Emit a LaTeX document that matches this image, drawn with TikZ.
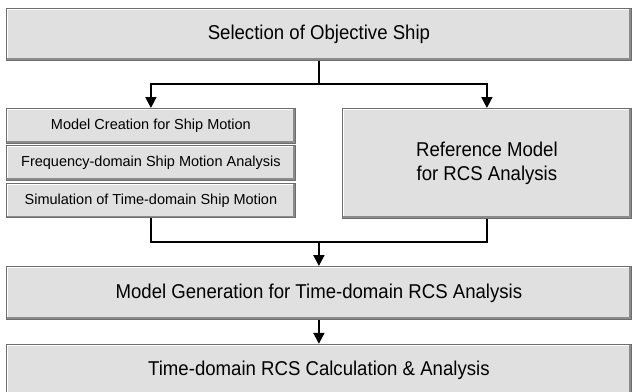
\documentclass[tikz,border=0pt]{standalone}
\usepackage{fontspec}
\setmainfont{Liberation Sans}
\newfontfamily\narrowsf[FakeStretch=0.93]{Liberation Sans}
\usetikzlibrary{arrows.meta,positioning}
\definecolor{boxfill}{HTML}{E0E0E0}
\definecolor{boxedge}{HTML}{6E6E6E}
\definecolor{bevelgray}{HTML}{8C8C8C}

\begin{document}
\begin{tikzpicture}[x=1pt,y=-1pt,>={Triangle[width=11pt,length=11pt]},
  box/.style={draw=boxedge,line width=0.8pt,fill=boxfill,inner sep=0pt,anchor=north west,
    path picture={
      \draw[white,line width=3pt] (path picture bounding box.south west) |- (path picture bounding box.north east);
      \draw[bevelgray,line width=4pt] (path picture bounding box.south west) -| (path picture bounding box.north east);}},
  big/.style={box,font=\narrowsf\fontsize{20}{24}\selectfont,align=center},
  small/.style={box,font=\fontsize{14.5}{17}\selectfont,minimum width=289pt,minimum height=34.5pt},
  arr/.style={->,line width=2pt},
  link/.style={line width=2pt}]
  \useasboundingbox (0,0) rectangle (632,391);
  \fill[white] (0,0) rectangle (632,391);
  \clip (0,0) rectangle (632,391);
  % boxes
  \node[big,minimum width=625pt,minimum height=52pt] (select) at (6,8) {Selection of Objective Ship};
  \node[small] (create) at (6,108) {Model Creation for Ship Motion};
  \node[small,below=2pt of create] (freq) {Frequency-domain Ship Motion Analysis};
  \node[small,below=2pt of freq] (simul) {Simulation of Time-domain Ship Motion};
  \node[big,minimum width=289pt,minimum height=110pt] (refmod) at (342,108) {Reference Model\\for RCS Analysis};
  \node[big,minimum width=625pt,minimum height=53pt] (gen) at (6,266) {Model Generation for Time-domain RCS Analysis};
  \node[big,minimum width=625pt,minimum height=53pt,below=24pt of gen] (calc) {Time-domain RCS Calculation \& Analysis};
  % connectors
  \draw[link] (select.south) -- ++(0,23) coordinate (split);
  \draw[arr] (split) -| (create.north);
  \draw[arr] (split) -| (refmod.north);
  \draw[link] (simul.south) -- ++(0,24) coordinate (join) -| (refmod.south);
  \draw[arr] (join -| gen.north) -- (gen.north);
  \draw[arr] (gen) -- (calc);
\end{tikzpicture}
\end{document}
